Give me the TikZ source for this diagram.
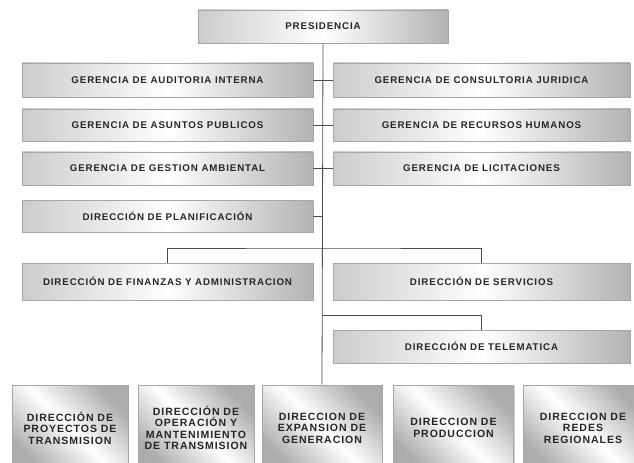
\documentclass[tikz,border=0pt]{standalone}
\usepackage{fontspec}
\setmainfont{Liberation Sans}
\newfontfamily\boxfont[LetterSpace=9]{Liberation Sans}
\usetikzlibrary{shadows}
\begin{document}
\begin{tikzpicture}[x=0.75pt,y=-0.75pt,
  every node/.style={font=\boxfont\bfseries\fontsize{7.3}{8}\selectfont, text=black!85},
  boxshadow/.style={drop shadow={shadow xshift=0.8pt, shadow yshift=-0.8pt, fill=gray!60, opacity=0.6}},
  unitbox/.style={draw=gray!70, line width=0.6pt, rectangle, inner sep=1pt, align=center, boxshadow,
    left color=gray!40, right color=gray!60, middle color=white},
  areabox/.style={draw=gray!70, line width=0.6pt, rectangle, inner sep=1pt, align=center, boxshadow,
    left color=gray!65, right color=gray!65, middle color=white, shading angle=135,
    font=\boxfont\bfseries\fontsize{7.9}{8.6}\selectfont},
  link/.style={draw=black!70, line width=0.6pt}]
\useasboundingbox (0,0) rectangle (634,463);
\clip (0,0) rectangle (634,463);

% top
\node[unitbox, minimum width=250*0.75pt, minimum height=33*0.75pt] (pres) at (323,26.5) {PRESIDENCIA};

% staff units, left column
\node[unitbox, minimum width=291*0.75pt, minimum height=34*0.75pt] (aud) at (167.5,80) {GERENCIA DE AUDITORIA INTERNA};
\node[unitbox, minimum width=291*0.75pt, minimum height=32*0.75pt] (pub) at (167.5,125) {GERENCIA DE ASUNTOS PUBLICOS};
\node[unitbox, minimum width=291*0.75pt, minimum height=33*0.75pt] (amb) at (167.5,168.5) {GERENCIA DE GESTION AMBIENTAL};
\node[unitbox, minimum width=291*0.75pt, minimum height=32*0.75pt] (plan) at (167.5,216) {DIRECCIÓN DE PLANIFICACIÓN};

% staff units, right column
\node[unitbox, minimum width=297*0.75pt, minimum height=34*0.75pt] (jur) at (481.5,80) {GERENCIA DE CONSULTORIA JURIDICA};
\node[unitbox, minimum width=297*0.75pt, minimum height=32*0.75pt] (rrhh) at (481.5,125) {GERENCIA DE RECURSOS HUMANOS};
\node[unitbox, minimum width=297*0.75pt, minimum height=33*0.75pt] (lic) at (481.5,168.5) {GERENCIA DE LICITACIONES};

% support directorates
\node[unitbox, minimum width=291*0.75pt, minimum height=37*0.75pt] (fin) at (167.5,281.5) {DIRECCIÓN DE FINANZAS Y ADMINISTRACION};
\node[unitbox, minimum width=297*0.75pt, minimum height=37*0.75pt] (serv) at (481.5,281.5) {DIRECCIÓN DE SERVICIOS};
\node[unitbox, minimum width=297*0.75pt, minimum height=33*0.75pt] (tel) at (481.5,346.5) {DIRECCIÓN DE TELEMATICA};

% line directorates
\node[areabox, minimum width=116*0.75pt, minimum height=86*0.75pt] (proy) at (70,428) {DIRECCIÓN DE\\PROYECTOS DE\\TRANSMISION};
\node[areabox, minimum width=116*0.75pt, minimum height=86*0.75pt] (oper) at (196,428) {DIRECCIÓN DE\\OPERACIÓN Y\\MANTENIMIENTO\\DE TRANSMISION};
\node[areabox, minimum width=120*0.75pt, minimum height=86*0.75pt] (exp) at (322,428) {DIRECCION DE\\EXPANSION DE\\GENERACION};
\node[areabox, minimum width=120*0.75pt, minimum height=86*0.75pt] (prod) at (453.5,428) {DIRECCION DE\\PRODUCCION};
\node[areabox, minimum width=120*0.75pt, minimum height=86*0.75pt] (redes) at (583,428) {DIRECCION DE\\REDES\\REGIONALES};

% connectors
\coordinate (j1) at (322,248);
\coordinate (j2) at (322,315);
\draw[link] (pres.south) -- (exp.north);
\draw[link] (aud.east) -- (jur.west);
\draw[link] (pub.east) -- (rrhh.west);
\draw[link] (amb.east) -- (lic.west);
\draw[link] (plan.east) -- (plan.east -| pres.south);
\draw[link] (fin.north) |- (j1) -| (serv.north);
\draw[link] (j2) -| (tel.north);
\end{tikzpicture}
\end{document}
